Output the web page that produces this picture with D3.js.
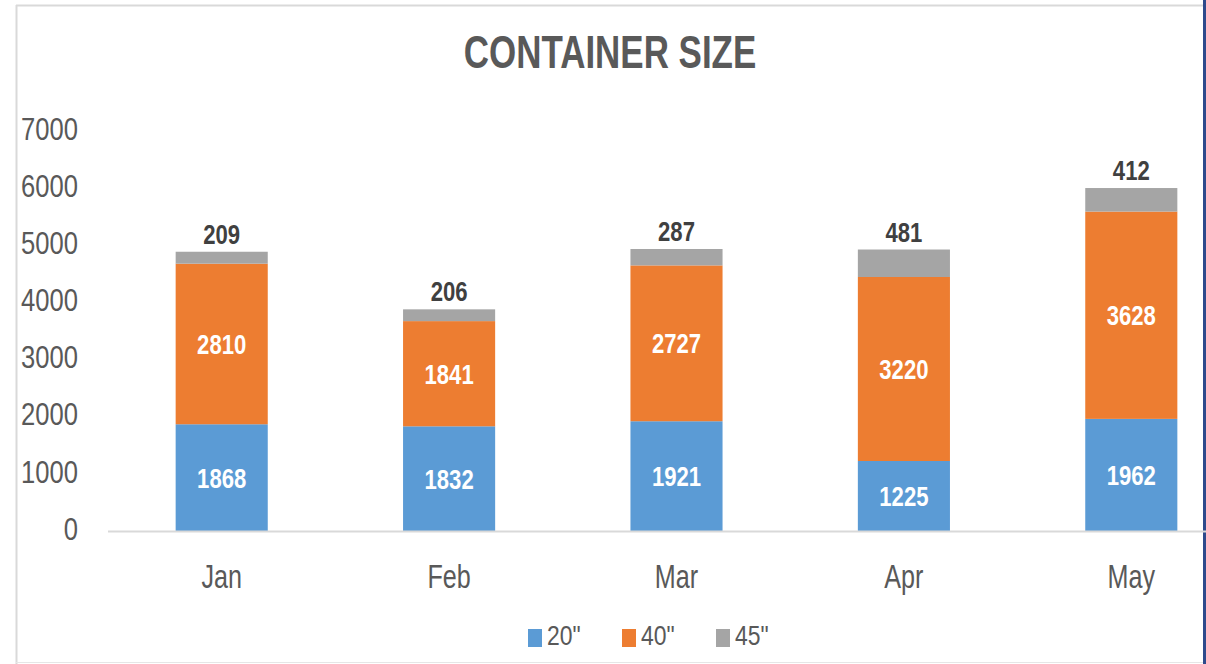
<!DOCTYPE html>
<html>
<head>
<meta charset="utf-8">
<script src="https://cdn.jsdelivr.net/npm/d3@7"></script>
<style>
  body { margin: 0; background: #fff; }
  text { font-family: "Liberation Sans", Arial, sans-serif; }
</style>
</head>
<body>
<div id="chart"></div>
<script>
const width = 1206;
const height = 664;
const margin = { top: 131, right: -39, bottom: 133, left: 108 };

const months = ["Jan", "Feb", "Mar", "Apr", "May"];
const seriesKeys = ["20\"", "40\"", "45\""];
const size20 = [1868, 1832, 1921, 1225, 1962];
const size40 = [2810, 1841, 2727, 3220, 3628];
const size45 = [209, 206, 287, 481, 412];
const yTicks = [0, 1000, 2000, 3000, 4000, 5000, 6000, 7000];
const colors = ["#5B9BD5", "#ED7D31", "#A5A5A5"];

const rows = months.map((m, i) => ({
  month: m,
  [seriesKeys[0]]: size20[i],
  [seriesKeys[1]]: size40[i],
  [seriesKeys[2]]: size45[i],
}));

// the source picture is squeezed sideways, so narrow every text the same way
function squeeze(sel, s) {
  sel.each(function () {
    const t = d3.select(this);
    const x0 = +t.attr("x") || 0;
    const y0 = +t.attr("y") || 0;
    t.attr("x", 0)
      .attr("y", 0)
      .attr("transform", `translate(${x0},${y0}) scale(${s},1)`);
  });
}

const svg = d3
  .select("#chart")
  .append("svg")
  .attr("width", width)
  .attr("height", height);

// frame of the screenshot
svg.append("line").attr("x1", 16).attr("x2", width).attr("y1", 5.5).attr("y2", 5.5)
  .attr("stroke", "#d9d9d9").attr("stroke-width", 2);
svg.append("line").attr("x1", 16.5).attr("x2", 16.5).attr("y1", 5).attr("y2", height)
  .attr("stroke", "#d9d9d9").attr("stroke-width", 2);
svg.append("line").attr("x1", 16).attr("x2", width).attr("y1", 662.5).attr("y2", 662.5)
  .attr("stroke", "#e6e6e6").attr("stroke-width", 1);
svg.append("line").attr("x1", 1204.5).attr("x2", 1204.5).attr("y1", 0).attr("y2", height)
  .attr("stroke", "#2e4a8c").attr("stroke-width", 3);

// title
svg
  .append("text")
  .attr("x", 610)
  .attr("y", 68)
  .attr("text-anchor", "middle")
  .style("font-size", "46px")
  .style("font-weight", "bold")
  .style("fill", "#595959")
  .text("CONTAINER SIZE")
  .call(squeeze, 0.76);

const x = d3
  .scaleBand()
  .domain(months)
  .range([margin.left, width - margin.right])
  .paddingInner(0.595)
  .paddingOuter(0.2975);

const y = d3
  .scaleLinear()
  .domain([0, 7000])
  .range([height - margin.bottom, margin.top]);

const color = d3.scaleOrdinal().domain(seriesKeys).range(colors);

const stacked = d3.stack().keys(seriesKeys)(rows);

// y axis labels (no line, no ticks)
const yAxis = svg
  .append("g")
  .attr("transform", `translate(78,-2)`)
  .call(d3.axisLeft(y).tickValues(yTicks).tickSize(0).tickPadding(0).tickFormat(d3.format("d")));
yAxis.select(".domain").remove();
yAxis.selectAll("text")
  .style("font-size", "32px")
  .style("fill", "#595959")
  .attr("font-family", null)
  .call(squeeze, 0.8);

// bars
svg
  .selectAll(".layer")
  .data(stacked)
  .enter()
  .append("g")
  .attr("class", "layer")
  .attr("fill", (d) => color(d.key))
  .selectAll("rect")
  .data((d) => d)
  .enter()
  .append("rect")
  .attr("x", (d) => x(d.data.month))
  .attr("width", x.bandwidth())
  .attr("y", (d) => y(d[1]))
  .attr("height", (d) => y(d[0]) - y(d[1]));

// x axis
const xAxis = svg
  .append("g")
  .attr("transform", `translate(0,${y(0)})`)
  .call(d3.axisBottom(x).tickSize(0).tickPadding(33));
xAxis.select(".domain")
  .attr("d", `M${margin.left},0.5H${width}`)
  .attr("stroke", "#d9d9d9")
  .attr("stroke-width", 2);
xAxis.selectAll("text")
  .style("font-size", "34px")
  .style("fill", "#595959")
  .attr("font-family", null)
  .call(squeeze, 0.74);

// labels inside the 20" and 40" segments
stacked.slice(0, 2).forEach((layer) => {
  svg
    .append("g")
    .selectAll("text")
    .data(layer)
    .enter()
    .append("text")
    .attr("x", (d) => x(d.data.month) + x.bandwidth() / 2)
    .attr("y", (d) => (y(d[0]) + y(d[1])) / 2)
    .attr("dy", "0.36em")
    .attr("text-anchor", "middle")
    .style("font-size", "28px")
    .style("font-weight", "bold")
    .style("fill", "#ffffff")
    .text((d) => d[1] - d[0])
    .call(squeeze, 0.79);
});

// labels above the 45" segments
svg
  .append("g")
  .selectAll("text")
  .data(stacked[2])
  .enter()
  .append("text")
  .attr("x", (d) => x(d.data.month) + x.bandwidth() / 2)
  .attr("y", (d) => y(d[1]) - 8)
  .attr("text-anchor", "middle")
  .style("font-size", "27px")
  .style("font-weight", "bold")
  .style("fill", "#404040")
  .text((d) => d[1] - d[0])
  .call(squeeze, 0.82);

// legend
const legendX = [528, 622, 716];
const legend = svg
  .append("g")
  .selectAll("g")
  .data(seriesKeys)
  .enter()
  .append("g")
  .attr("transform", (d, i) => `translate(${legendX[i]},629)`);
legend
  .append("rect")
  .attr("width", 14)
  .attr("height", 18)
  .attr("fill", (d) => color(d));
legend
  .append("text")
  .attr("x", 19)
  .attr("y", 16)
  .style("font-size", "28px")
  .style("fill", "#595959")
  .text((d) => d)
  .call(squeeze, 0.82);
</script>
</body>
</html>
